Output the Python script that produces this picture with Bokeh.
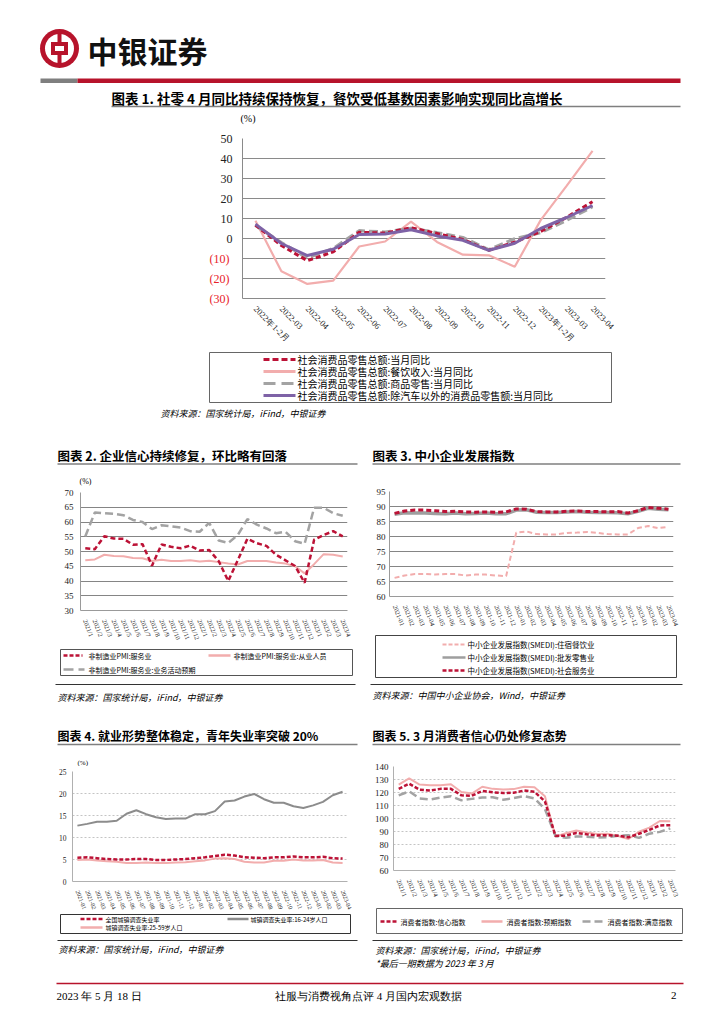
import math
from bokeh.plotting import figure
from bokeh.models import Range1d, FactorRange, FixedTicker, LinearAxis
from bokeh.layouts import column, row
from bokeh.embed import file_html
from bokeh.resources import INLINE
from bokeh.core.properties import value

SERIF = "Liberation Serif"
CJK = "Noto Sans CJK SC"
RED = "#BC1236"
PINK = "#F2ADAD"
GRAY = "#A3A3A3"
PURPLE = "#7E62A6"
BRAND = "#B7132B"

# ---------------- data ----------------
c1_months = ["2022年1-2月", "2022-03", "2022-04", "2022-05", "2022-06", "2022-07", "2022-08",
             "2022-09", "2022-10", "2022-11", "2022-12", "2023年1-2月", "2023-03", "2023-04"]
retail_total = [6.7, -3.5, -11.1, -6.7, 3.1, 2.7, 5.4, 2.5, -0.5, -5.9, -1.8, 3.5, 10.6, 18.4]
catering = [8.9, -16.4, -22.7, -21.1, -4.0, -1.5, 8.4, -1.7, -8.1, -8.4, -14.1, 9.2, 26.3, 43.8]
goods_retail = [6.5, -2.1, -9.7, -5.0, 3.9, 3.2, 5.1, 2.9, 0.5, -5.6, -0.1, 2.9, 9.1, 15.9]
ex_auto = [7.2, -2.5, -8.5, -5.4, 2.0, 2.2, 4.4, 1.3, -0.9, -5.9, -2.4, 5.0, 10.5, 16.5]
c1_ticks = [-30, -20, -10, 0, 10, 20, 30, 40, 50]
c1_pos_ticks = [0, 10, 20, 30, 40, 50]
c1_neg_ticks = [-10, -20, -30]
c1_neg_labels = ["(10)", "(20)", "(30)"]

c2_months = ["2021/1", "2021/2", "2021/3", "2021/4", "2021/5", "2021/6", "2021/7", "2021/8",
             "2021/9", "2021/10", "2021/11", "2021/12", "2022/1", "2022/2", "2022/3", "2022/4",
             "2022/5", "2022/6", "2022/7", "2022/8", "2022/9", "2022/10", "2022/11", "2022/12",
             "2023/1", "2023/2", "2023/3", "2023/4"]
pmi_services = [51.1, 50.8, 55.2, 54.4, 54.3, 52.3, 52.5, 45.2, 52.4, 51.6, 51.1, 52.0, 50.3, 50.5,
                46.7, 40.0, 47.1, 54.3, 52.8, 51.9, 48.9, 47.0, 45.1, 39.4, 54.0, 55.6, 56.9, 55.1]
pmi_employment = [47.0, 47.3, 48.9, 48.5, 48.4, 47.8, 47.7, 46.8, 47.2, 46.8, 46.8, 47.0, 46.6, 46.9,
                  46.4, 45.9, 45.6, 46.8, 46.8, 46.8, 46.3, 45.9, 45.0, 42.6, 45.7, 49.1, 48.9, 48.3]
pmi_expect = [55.1, 63.2, 63.0, 62.8, 62.3, 60.7, 60.0, 57.6, 58.9, 58.5, 58.1, 56.9, 56.7, 59.7,
              53.7, 52.9, 55.6, 61.0, 59.1, 57.8, 56.2, 56.7, 53.5, 52.6, 64.8, 64.8, 63.0, 62.1]
c2_ticks = [30, 35, 40, 45, 50, 55, 60, 65, 70]

c3_months = ["2021-01", "2021-02", "2021-03", "2021-04", "2021-05", "2021-06", "2021-07", "2021-08",
             "2021-09", "2021-10", "2021-11", "2021-12", "2022-01", "2022-02", "2022-03", "2022-04",
             "2022-05", "2022-06", "2022-07", "2022-08", "2022-09", "2022-10", "2022-11", "2022-12",
             "2023-01", "2023-02", "2023-03", "2023-04"]
smedi_hotel = [66.2, 67.0, 67.5, 67.5, 67.3, 67.5, 67.5, 67.0, 67.3, 67.3, 67.0, 66.8, 81.3, 81.7,
               80.8, 80.7, 80.7, 81.2, 81.3, 81.5, 81.2, 80.8, 80.7, 80.7, 82.8, 83.5, 82.8, 83.2]
smedi_wholesale = [87.4, 87.9, 87.8, 87.8, 87.7, 87.6, 87.8, 87.6, 87.7, 87.8, 87.6, 87.6, 88.8, 88.9,
                   88.1, 88.0, 88.0, 88.2, 88.3, 88.1, 88.0, 88.0, 87.9, 87.6, 88.4, 89.4, 89.1, 88.9]
smedi_social = [87.7, 88.5, 88.8, 88.8, 88.6, 88.3, 88.4, 88.2, 88.1, 88.2, 88.1, 88.2, 89.2, 89.1,
                88.3, 88.2, 88.2, 88.4, 88.5, 88.3, 88.3, 88.2, 88.3, 87.8, 88.6, 89.7, 89.4, 89.1]
c3_ticks = [60, 65, 70, 75, 80, 85, 90, 95]

c4_months = ["2021-01", "2021-02", "2021-03", "2021-04", "2021-05", "2021-06", "2021-07", "2021-08",
             "2021-09", "2021-10", "2021-11", "2021-12", "2022-01", "2022-02", "2022-03", "2022-04",
             "2022-05", "2022-06", "2022-07", "2022-08", "2022-09", "2022-10", "2022-11", "2022-12",
             "2023-01", "2023-02", "2023-03", "2023-04"]
unemp_urban = [5.4, 5.5, 5.3, 5.1, 5.0, 5.0, 5.1, 5.1, 4.9, 4.9, 5.0, 5.1, 5.3, 5.5,
               5.8, 6.1, 5.9, 5.5, 5.4, 5.3, 5.5, 5.5, 5.7, 5.5, 5.5, 5.6, 5.3, 5.2]
unemp_youth = [12.7, 13.1, 13.6, 13.6, 13.8, 15.4, 16.2, 15.3, 14.6, 14.2, 14.3, 14.3, 15.3, 15.3,
               16.0, 18.2, 18.4, 19.3, 19.9, 18.7, 17.9, 17.9, 17.1, 16.7, 17.3, 18.1, 19.6, 20.4]
unemp_prime = [4.9, 5.0, 4.8, 4.6, 4.5, 4.2, 4.2, 4.3, 4.2, 4.2, 4.3, 4.4, 4.6, 4.8,
               5.2, 5.3, 5.1, 4.5, 4.3, 4.3, 4.7, 4.7, 5.0, 4.8, 4.8, 4.9, 4.3, 4.2]
c4_ticks = [0, 5, 10, 15, 20, 25]

c5_months = ["2021/1", "2021/2", "2021/3", "2021/4", "2021/5", "2021/6", "2021/7", "2021/8",
             "2021/9", "2021/10", "2021/11", "2021/12", "2022/1", "2022/2", "2022/3", "2022/4",
             "2022/5", "2022/6", "2022/7", "2022/8", "2022/9", "2022/10", "2022/11", "2022/12",
             "2023/1", "2023/2", "2023/3"]
cons_confidence = [122.8, 126.8, 122.2, 121.5, 122.8, 122.8, 117.8, 117.5, 121.2, 120.2, 119.6, 119.8,
                   121.5, 120.5, 113.2, 86.7, 86.8, 88.9, 87.9, 87.0, 87.2, 86.8, 85.5, 88.3,
                   91.2, 94.7, 94.9]
cons_expect = [126.0, 130.8, 126.1, 125.5, 125.6, 126.4, 120.4, 119.2, 124.4, 122.8, 122.4, 122.6,
               124.4, 124.0, 117.2, 86.0, 88.7, 90.8, 89.2, 88.0, 88.3, 86.5, 84.2, 89.8,
               93.0, 98.1, 97.8]
cons_satisfy = [117.8, 120.9, 115.4, 114.6, 116.1, 117.2, 114.0, 115.1, 116.1, 116.4, 114.5, 115.7,
                117.2, 115.5, 107.3, 86.6, 85.2, 86.2, 86.0, 85.3, 85.7, 86.7, 87.2, 85.1,
                88.3, 89.7, 92.4]
c5_ticks = [60, 70, 80, 90, 100, 110, 120, 130, 140]


# ---------------- helpers ----------------
def deco(x0, y0, w, h):
    p = figure(width=w, height=h, x_range=Range1d(x0, x0 + w), y_range=Range1d(y0 + h, y0),
               output_backend="svg", toolbar_location=None, min_border=0,
               x_axis_type=None, y_axis_type=None, frame_align=False)
    p.grid.visible = False
    p.outline_line_color = None
    return p


def txt(p, x, y, s, size, color="black", font=CJK, style="normal", align="left"):
    p.text(x=[x], y=[y], text=[s], text_font=value(font), text_font_size=size,
           text_color=color, text_font_style=style, text_align=align, text_baseline="middle")


def hline(p, x0, x1, y, color, width=1.0, dash="solid"):
    p.line([x0, x1], [y, y], line_color=color, line_width=width, line_dash=dash)


def box(p, l, r, t, b, color="#555555", width=1.0):
    p.quad(left=[l], right=[r], top=[t], bottom=[b], fill_color=None, line_color=color, line_width=width)


def chart(w, h, factors, y0, y1, ticks, ml, mr, mt, mb, ysize, xsize, angle, grid_color, grid_dash,
          axis_color, standoff):
    p = figure(width=w, height=h, x_range=FactorRange(factors=factors), y_range=Range1d(y0, y1),
               output_backend="svg", toolbar_location=None, frame_align=False,
               min_border_left=ml, min_border_right=mr, min_border_top=mt, min_border_bottom=mb)
    p.outline_line_color = None
    p.xgrid.visible = False
    p.yaxis.ticker = FixedTicker(ticks=ticks)
    p.ygrid.ticker = FixedTicker(ticks=ticks)
    p.ygrid.grid_line_color = grid_color
    p.ygrid.grid_line_dash = grid_dash
    p.ygrid.grid_line_width = 1
    p.yaxis.axis_line_color = axis_color
    p.yaxis.major_tick_line_color = None
    p.yaxis.major_tick_out = 0
    p.yaxis.minor_tick_line_color = None
    p.yaxis.major_label_standoff = standoff
    p.yaxis.major_label_text_font = SERIF
    p.yaxis.major_label_text_font_size = ysize
    p.yaxis.major_label_text_color = "#222222"
    p.xaxis.axis_line_color = axis_color
    p.xaxis.major_tick_line_color = None
    p.xaxis.minor_tick_line_color = None
    p.xaxis.major_label_orientation = angle
    p.xaxis.major_label_standoff = 3
    p.xaxis.major_label_text_font = SERIF
    p.xaxis.major_label_text_font_size = xsize
    p.xaxis.major_label_text_color = "#222222"
    return p


SRC_FONT = "9px"

# ---------------- band A: header ----------------
A = deco(0, 0, 724, 126)
A.circle(x=[59], y=[48], radius=19.5, fill_color=BRAND, line_color=None)
A.circle(x=[59], y=[48], radius=14.5, fill_color="white", line_color=None)
A.quad(left=[57], right=[61], top=[33], bottom=[63], fill_color=BRAND, line_color=None)
A.quad(left=[50.5], right=[67.5], top=[41.5], bottom=[54.5], fill_color=BRAND, line_color=None)
A.quad(left=[54.5], right=[63.5], top=[45.5], bottom=[50.5], fill_color="white", line_color=None)
A.text(x=[87], y=[49], text=["中银证券"], text_font=value(CJK), text_font_size="30px",
       text_color="#111111", text_baseline="middle", text_font_style="bold")
A.quad(left=[40], right=[77], top=[78], bottom=[82.5], fill_color="#7F7F7F", line_color=None)
A.quad(left=[77], right=[680], top=[78], bottom=[82.5], fill_color=BRAND, line_color=None)
txt(A, 111, 97, "图表 1. 社零 4 月同比持续保持恢复，餐饮受低基数因素影响实现同比高增长", "13.5px",
    style="bold")
hline(A, 111, 680, 106, "#7F7F7F", 1.3)
txt(A, 240, 118, "(%)", "10px", font=SERIF)

# ---------------- band B: chart 1 ----------------
B = chart(724, 224, c1_months, -30, 50, c1_ticks, 242, 119, 12, 47, "12px", "8.5px", -math.pi / 4,
          "#8A8A8A", "solid", "#8A8A8A", 10)
B.yaxis.ticker = FixedTicker(ticks=c1_pos_ticks)
# second (outer) left axis carrying the red bracketed negative labels, pulled back into the same column
neg_axis = LinearAxis(ticker=FixedTicker(ticks=c1_neg_ticks),
                      major_label_overrides=dict(zip(c1_neg_ticks, c1_neg_labels)),
                      axis_line_color=None, major_tick_line_color=None, major_tick_out=0,
                      minor_tick_line_color=None, minor_tick_out=0, major_label_standoff=-12,
                      major_label_text_font=SERIF, major_label_text_font_size="12px",
                      major_label_text_color="#E8202A")
B.add_layout(neg_axis, "left")
B.line(c1_months, catering, line_color=PINK, line_width=2.2)
B.line(c1_months, goods_retail, line_color=GRAY, line_width=3.2, line_dash="9 4")
B.line(c1_months, retail_total, line_color=RED, line_width=3, line_dash="5 3")
B.line(c1_months, ex_auto, line_color=PURPLE, line_width=3)

# ---------------- band C: chart 1 legend + source ----------------
C = deco(0, 350, 724, 78)
box(C, 209, 611, 352, 402, "#666666", 1)
hline(C, 263, 295, 359, RED, 3, "6 3")
txt(C, 297, 359, "社会消费品零售总额:当月同比", "10px")
hline(C, 263, 295, 371, PINK, 3)
txt(C, 297, 371, "社会消费品零售总额:餐饮收入:当月同比", "10px")
hline(C, 263, 295, 383, GRAY, 3, "12 6")
txt(C, 297, 383, "社会消费品零售总额:商品零售:当月同比", "10px")
hline(C, 263, 295, 395, PURPLE, 3)
txt(C, 297, 395, "社会消费品零售总额:除汽车以外的消费品零售额:当月同比", "10px")
txt(C, 160, 413, "资料来源：国家统计局，iFind，中银证券", SRC_FONT, style="italic")

# ---------------- left column ----------------
L1 = deco(0, 428, 365, 58)
txt(L1, 57, 455, "图表 2. 企业信心持续修复，环比略有回落", "12.5px", style="bold")
hline(L1, 57, 357, 463.5, "#7F7F7F", 1.3)
txt(L1, 79, 481, "(%)", "8px", font=SERIF)

L2 = chart(365, 158, c2_months, 30, 70, c2_ticks, 80, 18, 6, 28, "9px", "6.5px", -1.2,
           "#858585", "solid", "#9A9A9A", 7)
L2.line(c2_months, pmi_employment, line_color=PINK, line_width=2)
L2.line(c2_months, pmi_expect, line_color=GRAY, line_width=2.5, line_dash="8 4")
L2.line(c2_months, pmi_services, line_color=RED, line_width=2.5, line_dash="5 3")

L3 = deco(0, 644, 365, 76)
box(L3, 60, 352, 649, 675, "#555555", 1)
hline(L3, 63, 82, 655, RED, 2.5, "4 2")
txt(L3, 88, 655, "非制造业PMI:服务业", "7px")
hline(L3, 208, 230, 655, PINK, 2.5)
txt(L3, 233, 655, "非制造业PMI:服务业:从业人员", "7px")
hline(L3, 63, 84, 669, GRAY, 2.5, "10 5")
txt(L3, 88, 669, "非制造业PMI:服务业:业务活动预期", "7px")
hline(L3, 55, 355, 684, "#333333", 1.2)
txt(L3, 57, 697, "资料来源：国家统计局，iFind，中银证券", SRC_FONT, style="italic")

L4 = deco(0, 720, 365, 46)
txt(L4, 57, 735, "图表 4. 就业形势整体稳定，青年失业率突破 20%", "12px", style="bold")
hline(L4, 57, 357, 744, "#7F7F7F", 1.3)
txt(L4, 77, 762.5, "(%)", "7px", font=SERIF)

L5 = chart(365, 147, c4_months, 0, 25, c4_ticks, 72, 18, 5, 26, "7.5px", "6px", -1.2,
           "#C4C4C4", "2 2", "#B0B0B0", 6)
L5.line(c4_months, unemp_youth, line_color="#8C8C8C", line_width=2)
L5.line(c4_months, unemp_prime, line_color=PINK, line_width=2)
L5.line(c4_months, unemp_urban, line_color=RED, line_width=2.5, line_dash="4 2")

L6 = deco(0, 913, 365, 62)
box(L6, 60, 350, 914, 933, "#333333", 1)
hline(L6, 80, 102, 918.5, RED, 2.5, "4 2")
txt(L6, 105, 918.5, "全国城镇调查失业率", "6px")
hline(L6, 227, 248, 918.5, "#8C8C8C", 2.5)
txt(L6, 250, 918.5, "城镇调查失业率:16-24岁人口", "6px")
hline(L6, 80, 102, 927, PINK, 2.5)
txt(L6, 105, 927, "城镇调查失业率:25-59岁人口", "6px")
hline(L6, 57, 357, 940, "#333333", 1.2)
txt(L6, 58, 949, "资料来源：国家统计局，iFind，中银证券", SRC_FONT, style="italic")

left_col = column(L1, L2, L3, L4, L5, L6)

# ---------------- right column ----------------
R1 = deco(365, 428, 359, 56)
txt(R1, 372, 455, "图表 3. 中小企业发展指数", "12.5px", style="bold")
hline(R1, 372, 680, 463.5, "#7F7F7F", 1.3)

R2 = chart(359, 146, c3_months, 60, 95, c3_ticks, 24, 51, 7, 27, "9px", "6.5px", -1.2,
           "#858585", "solid", "#9A9A9A", 4)
R2.line(c3_months, smedi_hotel, line_color=PINK, line_width=2, line_dash="5 3")
R2.line(c3_months, smedi_wholesale, line_color="#9E9E9E", line_width=3.5)
R2.line(c3_months, smedi_social, line_color=RED, line_width=3, line_dash="5 3")

R3 = deco(365, 630, 359, 90)
box(R3, 375, 676, 635, 677, "#444444", 1)
hline(R3, 442, 465, 644, PINK, 2, "4 2")
txt(R3, 467, 644, "中小企业发展指数(SMEDI):住宿餐饮业", "7.5px")
hline(R3, 442, 465, 657, "#9E9E9E", 2.5)
txt(R3, 467, 657, "中小企业发展指数(SMEDI):批发零售业", "7.5px")
hline(R3, 442, 465, 670, RED, 2.5, "4 2")
txt(R3, 467, 670, "中小企业发展指数(SMEDI):社会服务业", "7.5px")
hline(R3, 370, 682, 684, "#333333", 1.2)
txt(R3, 372, 695, "资料来源：中国中小企业协会，Wind，中银证券", SRC_FONT, style="italic")

R4 = deco(365, 720, 359, 38)
txt(R4, 372, 735, "图表 5. 3 月消费者信心仍处修复态势", "12px", style="bold")
hline(R4, 372, 680, 744, "#7F7F7F", 1.3)

R5 = chart(359, 146, c5_months, 60, 140, c5_ticks, 28, 49, 8, 25, "9px", "6.5px", -1.2,
           "#C4C4C4", "2 2", "#B0B0B0", 5)
R5.line(c5_months, cons_expect, line_color=PINK, line_width=2)
R5.line(c5_months, cons_satisfy, line_color=GRAY, line_width=2.5, line_dash="8 4")
R5.line(c5_months, cons_confidence, line_color=RED, line_width=2.5, line_dash="4 2")

R6 = deco(365, 904, 359, 71)
box(R6, 376, 682, 908, 933, "#666666", 1)
hline(R6, 380, 398, 921, RED, 2.5, "4 2")
txt(R6, 400, 921, "消费者指数:信心指数", "7px")
hline(R6, 481, 502, 921, PINK, 2.5)
txt(R6, 506, 921, "消费者指数:预期指数", "7px")
hline(R6, 582, 603, 921, GRAY, 2.5, "8 4")
txt(R6, 607, 921, "消费者指数:满意指数", "7px")
hline(R6, 372, 682, 940, "#333333", 1.2)
txt(R6, 375, 950, "资料来源：国家统计局，iFind，中银证券", SRC_FONT, style="italic")
txt(R6, 375, 963, "*最后一期数据为 2023 年 3 月", SRC_FONT, style="italic")

right_col = column(R1, R2, R3, R4, R5, R6)

# ---------------- footer ----------------
F = deco(0, 975, 724, 47)
hline(F, 56, 683, 983, BRAND, 1.5)
txt(F, 56, 995, "2023 年 5 月 18 日", "11px", font=SERIF)
txt(F, 368, 995, "社服与消费视角点评 4 月国内宏观数据", "11px", font=SERIF, align="center")
txt(F, 676, 995, "2", "11px", font=SERIF, align="right")

page = column(A, B, C, row(left_col, right_col), F)

open("out.html", "w").write(file_html(page, INLINE))
